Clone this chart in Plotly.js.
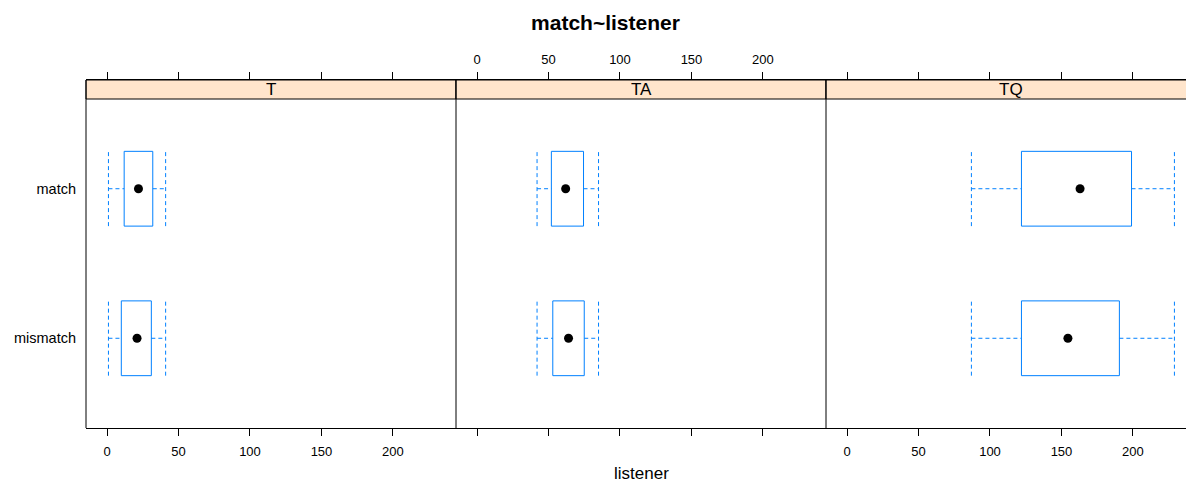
<!DOCTYPE html>
<html>
<head>
<meta charset="utf-8">
<script src="https://cdn.plot.ly/plotly-3.0.1.min.js"></script>
<style>html,body{margin:0;padding:0;background:#fff;}#chart{width:1186px;height:485px;}</style>
</head>
<body>
<div id="chart"></div>
<script>
// ---- data ----
var listeners = ['T', 'TA', 'TQ'];
var categories = ['mismatch', 'match'];          // y positions 1, 2
var tickValues = [0, 50, 100, 150, 200];

// per listener, per category [mismatch, match]
var lowerWhisker = { T: [1, 1],     TA: [42, 42],   TQ: [87, 87] };
var q1Values     = { T: [10, 12],   TA: [53, 52],   TQ: [122, 122] };
var medianValues = { T: [21, 22],   TA: [64, 62],   TQ: [154.5, 163] };
var q3Values     = { T: [31, 32],   TA: [75, 74.5], TQ: [190.5, 199] };
var upperWhisker = { T: [41, 41],   TA: [85, 85],   TQ: [229, 229] };

// ---- layout constants ----
var FONT = 'Liberation Sans, Arial, sans-serif';
var BLUE = '#0080ff';
var HALF = 0.25;
var W = 1186, H = 485;
var L = 86, T = 80, B = 57;
var plotW = W - L, plotH = H - T - B;           // 1100 x 348
var panelW = 370;
var domains = [[0, panelW / plotW], [panelW / plotW, 2 * panelW / plotW], [2 * panelW / plotW, 1]];
var ranges = [[-14.7, 244.1], [-14.7, 244.1], [-14.7, 237.1]];
var stripBottom = (428 - 99) / plotH;

var traces = [];
listeners.forEach(function (lst, p) {
  var xa = p === 0 ? 'x' : 'x' + (p + 1);
  var bx = [], by = [], hx = [], hy = [], vx = [], vy = [], mx = [], my = [];
  categories.forEach(function (c, i) {
    var y = i + 1;
    var lo = lowerWhisker[lst][i], a = q1Values[lst][i], m = medianValues[lst][i],
        b = q3Values[lst][i], hi = upperWhisker[lst][i];
    bx.push(a, b, b, a, a, null); by.push(y - HALF, y - HALF, y + HALF, y + HALF, y - HALF, null);
    hx.push(lo, a, null, b, hi, null); hy.push(y, y, null, y, y, null);
    vx.push(lo, lo, null, hi, hi, null); vy.push(y - HALF, y + HALF, null, y - HALF, y + HALF, null);
    mx.push(m); my.push(y);
  });
  traces.push({ type: 'scatter', mode: 'lines', x: hx, y: hy, xaxis: xa, yaxis: 'y',
    line: { color: BLUE, width: 1, dash: '4px,3px' }, hoverinfo: 'skip', showlegend: false });
  traces.push({ type: 'scatter', mode: 'lines', x: vx, y: vy, xaxis: xa, yaxis: 'y',
    line: { color: BLUE, width: 1, dash: '4px,3px' }, hoverinfo: 'skip', showlegend: false });
  traces.push({ type: 'scatter', mode: 'lines', x: bx, y: by, xaxis: xa, yaxis: 'y',
    line: { color: BLUE, width: 1 }, hoverinfo: 'skip', showlegend: false });
  traces.push({ type: 'scatter', mode: 'markers', x: mx, y: my, xaxis: xa, yaxis: 'y',
    marker: { color: 'black', size: 9 }, showlegend: false });
});

var layout = {
  width: W, height: H,
  margin: { l: L, r: 0, t: T, b: B, pad: 0 },
  paper_bgcolor: 'white', plot_bgcolor: 'white',
  font: { family: FONT, color: 'black' },
  showlegend: false,
  title: { text: 'match~listener', font: { family: FONT, size: 21, weight: 'bold', color: 'black' },
    x: 605.5 / W, xref: 'container', xanchor: 'center', y: 1 - 23 / H, yref: 'container', yanchor: 'middle' },
  yaxis: { range: [0.4, 2.6 + 19 / 149.55], domain: [0, 1], anchor: 'x',
    tickvals: [1, 2], ticktext: categories, ticks: '', showgrid: false, zeroline: false,
    showline: false, tickfont: { size: 14.5, family: FONT, color: 'black' }, ticklabelstandoff: 9 },
  shapes: [], annotations: []
};

listeners.forEach(function (lst, p) {
  var key = p === 0 ? 'xaxis' : 'xaxis' + (p + 1);
  layout[key] = {
    domain: domains[p], range: ranges[p], anchor: 'y',
    side: p === 1 ? 'top' : 'bottom',
    tickvals: tickValues, ticks: 'outside', ticklen: 7, tickcolor: 'black', tickwidth: 1,
    showline: true, linecolor: 'black', linewidth: 1, mirror: 'ticks',
    showgrid: false, zeroline: false, ticklabelstandoff: p === 1 ? 3 : 4,
    tickfont: { size: 13, family: FONT, color: 'black' }
  };
  // strip
  var x0 = domains[p][0];
  var x1 = p === 2 ? domains[p][0] + panelW / plotW : domains[p][1];
  layout.shapes.push({ type: 'rect', xref: 'paper', yref: 'paper', x0: x0, x1: x1, y0: stripBottom, y1: 1,
    fillcolor: '#ffe5cc', line: { color: 'black', width: 1 }, layer: 'above' });
  // panel left border
  layout.shapes.push({ type: 'line', xref: 'paper', yref: 'paper', x0: x0, x1: x0, y0: 0, y1: 1,
    line: { color: 'black', width: 1 } });
  layout.annotations.push({ text: lst, xref: 'paper', yref: 'paper', x: (x0 + x1) / 2,
    y: (stripBottom + 1) / 2, xanchor: 'center', yanchor: 'middle', showarrow: false,
    font: { size: 17, family: FONT, color: 'black' } });
});

layout.annotations.push({ text: 'listener', xref: 'paper', yref: 'paper',
  x: (641 - L) / plotW, y: (428 - 473) / plotH, xanchor: 'center', yanchor: 'middle', showarrow: false,
  font: { size: 17, family: FONT, color: 'black' } });

Plotly.newPlot('chart', traces, layout, { displayModeBar: false, staticPlot: true });
</script>
</body>
</html>
